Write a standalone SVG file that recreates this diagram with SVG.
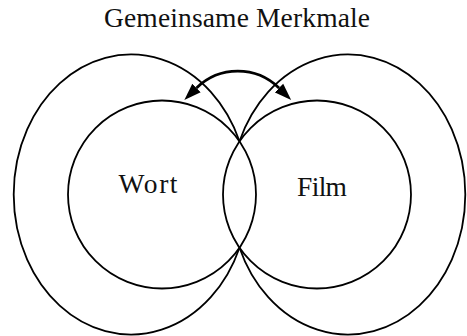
<svg xmlns="http://www.w3.org/2000/svg" width="467" height="336" viewBox="0 0 467 336">
  <style>
    .ln { fill: none; stroke: #000; stroke-width: 1.8; }
    .arr { fill: none; stroke: #000; stroke-width: 2.8; }
    .lbl { font-family: "Liberation Serif", "Times New Roman", serif; font-size: 27.5px; fill: #111; text-anchor: middle; }
  </style>
  <defs>
    <marker id="head" markerUnits="userSpaceOnUse" markerWidth="20" markerHeight="14" viewBox="0 -7 20 14" refX="0" refY="0" orient="auto-start-reverse">
      <path d="M0,-6 L17,0 L0,6 z" fill="#000"/>
    </marker>
  </defs>
  <rect width="467" height="336" fill="#fff"/>
  <text id="title" class="lbl" x="237" y="27" textLength="266" lengthAdjust="spacing">Gemeinsame Merkmale</text>
  <g id="wort">
    <path class="ln" d="M239.5,141.3 A117.3 140 0 1 0 239.5,247.7"/>
    <circle class="ln" cx="162" cy="194.5" r="94"/>
    <text class="lbl" x="148" y="193" textLength="59" lengthAdjust="spacing">Wort</text>
  </g>
  <g id="film">
    <path class="ln" d="M239.5,141.3 A117.3 140 0 1 1 239.5,247.7"/>
    <circle class="ln" cx="317" cy="194.5" r="94"/>
    <text class="lbl" x="322" y="196" textLength="50" lengthAdjust="spacing">Film</text>
  </g>
  <g id="connectors">
    <path class="arr" d="M196.5,88 A59 59 0 0 1 279,88" marker-start="url(#head)" marker-end="url(#head)"/>
  </g>
</svg>
